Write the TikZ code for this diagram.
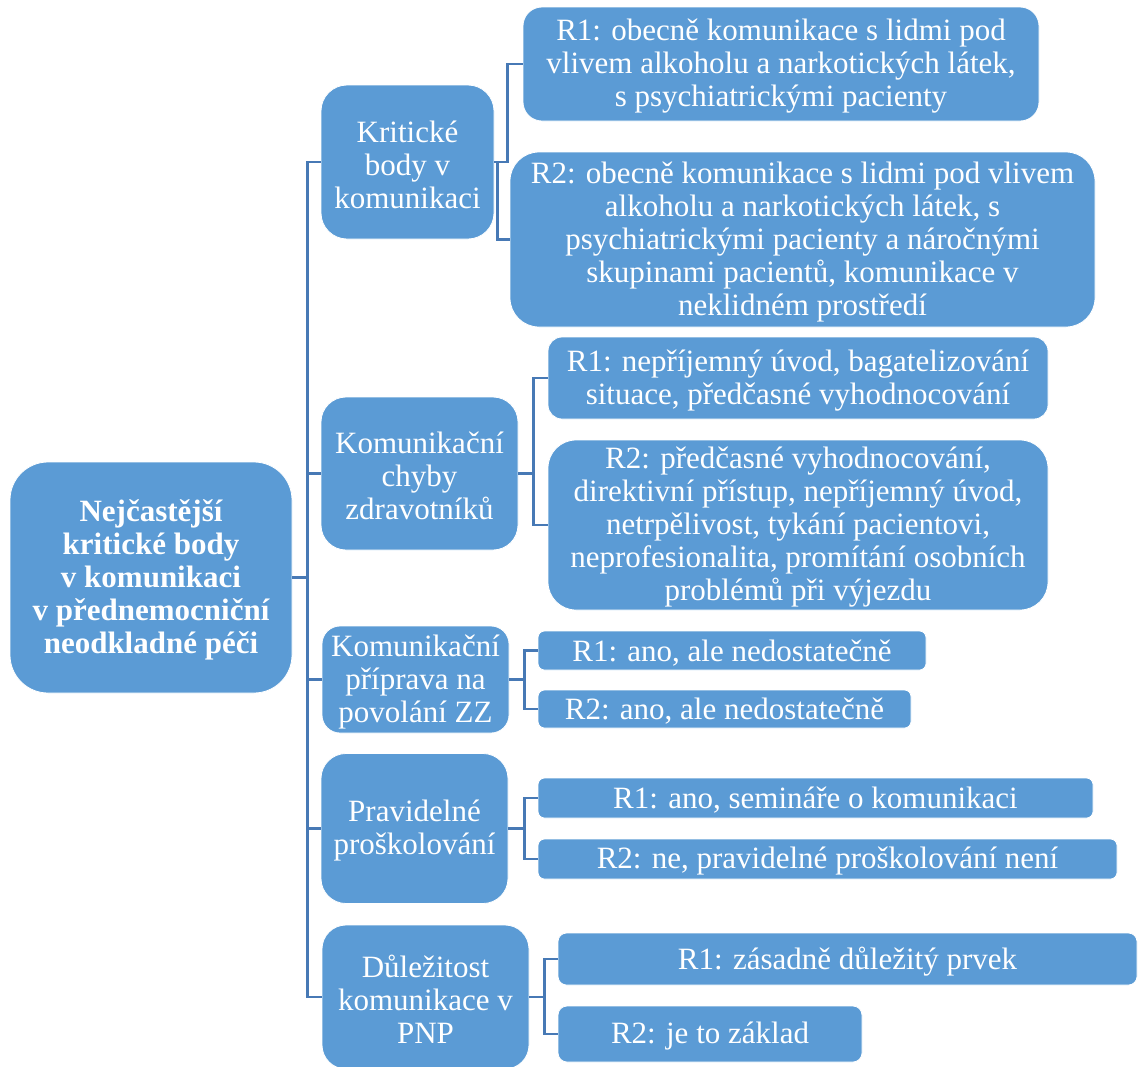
\documentclass[tikz,border=0pt]{standalone}
\usepackage{fontspec}
\setmainfont{Liberation Serif}
\definecolor{boxfill}{HTML}{5B9BD5}
\definecolor{linkcol}{HTML}{4779B5}
% \bx{name}{x}{y}{width}{height}{corner radius}{font}{text}:
% a rounded box named #1 and its label #1t, set a little below the box centre
\newcommand{\bx}[8]{%
  \node[box, minimum width=#4, minimum height=#5, rounded corners=#6] (#1) at (#2,#3) {};
  \node[txt, font=#7] (#1t) at ([yshift=-2.5pt]#1.center) {#8};
}
\newcommand{\plainset}{\fontsize{31}{33}\selectfont}
\newcommand{\boldset}{\fontsize{31}{33}\selectfont\bfseries}
\begin{document}
\begin{tikzpicture}[x=1pt,y=-1pt,
  box/.style={fill=boxfill, draw=white, line width=0.8pt, inner sep=0pt},
  txt/.style={text=white, align=center, inner sep=0pt},
  link/.style={draw=linkcol, line width=2.6pt}]
\useasboundingbox (0,0) rectangle (1138,1066);

% root
\bx{root}{151}{577.5}{282}{231}{38}{\boldset}
  {Nejčastější\\kritické body\\v komunikaci\\v přednemocniční\\neodkladné péči}

% first level
\bx{k1}{407.5}{162}{173}{154}{26}{\plainset}{Kritické\\body v\\komunikaci}
\bx{k2}{419.5}{473.5}{197}{153}{25}{\plainset}{Komunikační\\chyby\\zdravotníků}
\bx{k3}{415.5}{679.5}{187}{107}{18}{\plainset}{Komunikační\\příprava na\\povolání ZZ}
\bx{k4}{414.5}{828.5}{187}{150}{25}{\plainset}{Pravidelné\\proškolování}
\bx{k5}{425.5}{997}{207}{144}{24}{\plainset}{Důležitost\\komunikace v\\PNP}

% second level
\bx{a1}{781}{64}{516}{114}{19}{\plainset}
  {R1: obecně komunikace s lidmi pod\\vlivem alkoholu a narkotických látek,\\s psychiatrickými pacienty}
\bx{a2}{802.5}{239.5}{585}{175}{29}{\plainset}
  {R2: obecně komunikace s lidmi pod vlivem\\alkoholu a narkotických látek, s\\psychiatrickými pacienty a náročnými\\skupinami pacientů, komunikace v\\neklidném prostředí}
\bx{b1}{798}{378}{500}{82}{14}{\plainset}
  {R1: nepříjemný úvod, bagatelizování\\situace, předčasné vyhodnocování}
\bx{b2}{798}{525}{500}{170}{28}{\plainset}
  {R2: předčasné vyhodnocování,\\direktivní přístup, nepříjemný úvod,\\netrpělivost, tykání pacientovi,\\neprofesionalita, promítání osobních\\problémů při výjezdu}
\bx{c1}{732}{650.5}{388}{39}{6.5}{\plainset}{R1: ano, ale nedostatečně}
\bx{c2}{724.5}{709}{373}{38}{6.5}{\plainset}{R2: ano, ale nedostatečně}
\bx{d1}{815.5}{798}{555}{40}{6.5}{\plainset}{R1: ano, semináře o komunikaci}
\bx{d2}{827.5}{859}{579}{40}{6.5}{\plainset}{R2: ne, pravidelné proškolování není}
\bx{e1}{847.5}{959}{579}{52}{8.5}{\plainset}{R1: zásadně důležitý prvek}
\bx{e2}{710}{1034}{304}{56}{9}{\plainset}{R2: je to základ}

% connectors from the root
\foreach \k in {k1,k2,k3,k4,k5}
  \draw[link] (root.east) -- ++(15,0) |- (\k.west);

% connectors to the answers
\draw[link] (k1.east) -- ++(13,0) |- (a1.west);
\draw[link] (k1.east) -- ++(3,0) |- (a2.west);
\foreach \t in {b1,b2} \draw[link] (k2.east) -- ++(15,0) |- (\t.west);
\foreach \t in {c1,c2} \draw[link] (k3.east) -- ++(15,0) |- (\t.west);
\foreach \t in {d1,d2} \draw[link] (k4.east) -- ++(16,0) |- (\t.west);
\foreach \t in {e1,e2} \draw[link] (k5.east) -- ++(15,0) |- (\t.west);
\end{tikzpicture}
\end{document}
